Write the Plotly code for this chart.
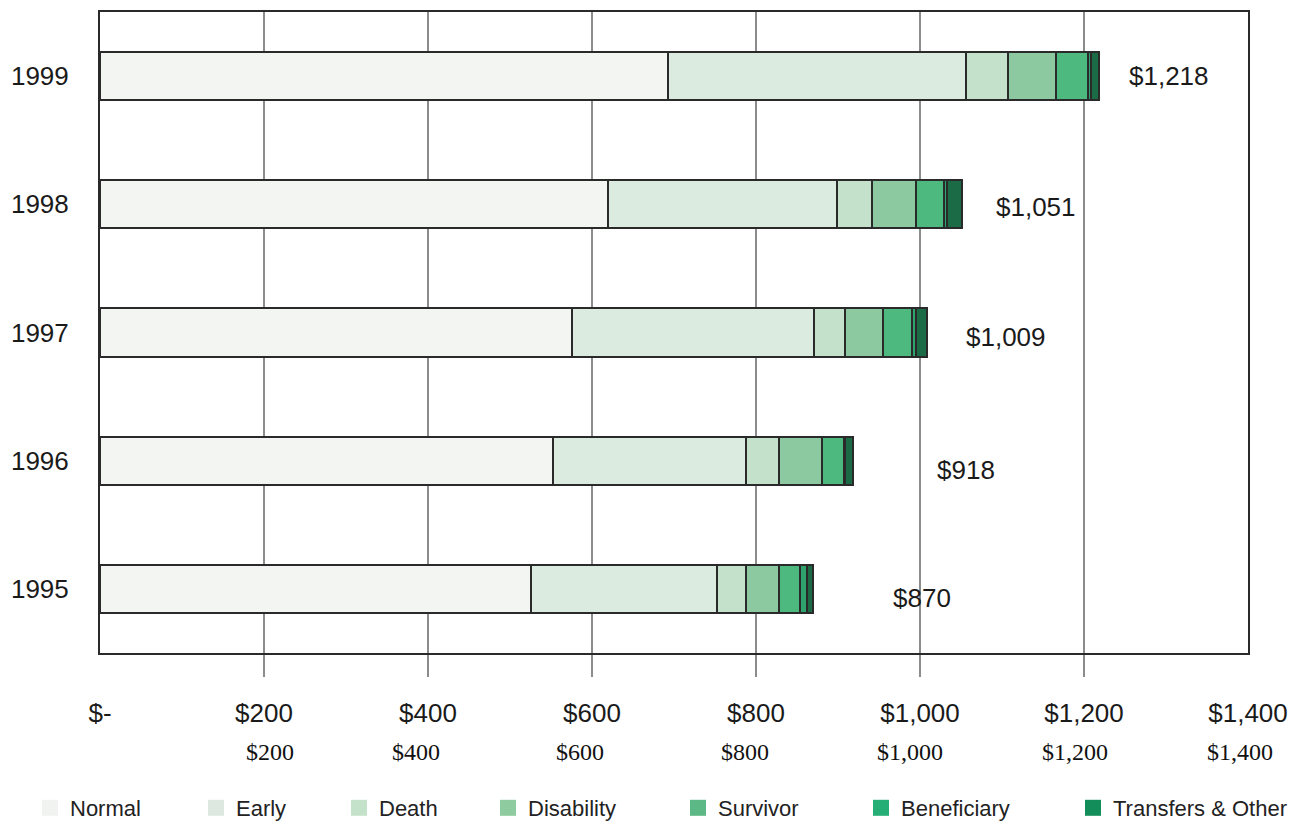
import plotly.graph_objects as go

# ---- data ----
years = ["1995", "1996", "1997", "1998", "1999"]
categories = ["Normal", "Early", "Death", "Disability", "Survivor", "Beneficiary", "Transfers & Other"]
normal = [526, 552, 576, 620, 693]
early = [227, 236, 295, 279, 363]
death = [35, 40, 38, 42, 51]
disability = [40, 52, 46, 54, 59]
survivor = [26, 27, 35, 34, 39]
beneficiary = [8, 2, 5, 4, 3]
transfers = [8, 9, 14, 18, 10]
totals = [870, 918, 1009, 1051, 1218]
x_tick_vals = [0, 200, 400, 600, 800, 1000, 1200, 1400]
x_tick_text = ["$-", "$200", "$400", "$600", "$800", "$1,000", "$1,200", "$1,400"]
serif_row_text = ["$200", "$400", "$600", "$800", "$1,000", "$1,200", "$1,400"]

series = [normal, early, death, disability, survivor, beneficiary, transfers]

# ---- styles / layout ----
bar_colors = ["#f3f5f3", "#dcebe0", "#c4e1cb", "#8dc9a0", "#4db97e", "#2ea36e", "#1b6b47"]
legend_colors = ["#f1f3f1", "#dde9e0", "#c4e2c9", "#8ecb9e", "#5cb884", "#25ae76", "#138d5a"]
legend_text_px = [72, 238, 381, 530, 720, 903, 1115]
serif_row_px = [270, 416, 580, 745, 910, 1075, 1240]
label_xshift = [78, 82, 37, 32, 28]
label_yshift = [-9, -9, -4, -3, 0]

SANS = "Liberation Sans, Arial, Helvetica, sans-serif"
SERIF = "Liberation Serif, Times New Roman, serif"
W, H = 1316, 825
L, R, T, B = 100, 68, 12, 172
PW, PH = W - L - R, H - T - B

fig = go.Figure()
for name, vals, col in zip(categories, series, bar_colors):
    fig.add_trace(go.Bar(
        y=years, x=vals, orientation="h", name=name,
        marker=dict(color=col, line=dict(color="#2a2a2a", width=2)),
        width=0.375, showlegend=False, hoverinfo="x+name",
    ))

for i, (name, col) in enumerate(zip(categories, legend_colors)):
    key = "legend" if i == 0 else f"legend{i + 1}"
    fig.add_trace(go.Scatter(
        x=[None], y=[None], mode="markers", name=name,
        marker=dict(symbol="square", size=16, color=col),
        legend=key, showlegend=True,
    ))
    fig.update_layout(**{key: dict(
        x=(legend_text_px[i] - 42 - L) / PW, y=(PH + T - 808) / PH,
        xanchor="left", yanchor="middle", orientation="h",
        bgcolor="rgba(0,0,0,0)", borderwidth=0,
        font=dict(family=SANS, size=22, color="#222"),
    )})

annotations = []
for idx, (tot, xs, ys) in enumerate(zip(totals, label_xshift, label_yshift)):
    annotations.append(dict(
        x=tot, y=idx, xref="x", yref="y", text=f"${tot:,}", showarrow=False,
        xanchor="left", yanchor="middle", xshift=xs, yshift=ys,
        font=dict(family=SANS, size=26, color="#1a1a1a"),
    ))
for txt, px in zip(serif_row_text, serif_row_px):
    annotations.append(dict(
        x=(px - L) / PW, y=(T + PH - 752) / PH, xref="paper", yref="paper",
        text=txt, showarrow=False, xanchor="center", yanchor="middle",
        font=dict(family=SERIF, size=24, color="#111"),
    ))

fig.update_layout(
    width=W, height=H, barmode="stack",
    margin=dict(l=L, r=R, t=T, b=B, autoexpand=False),
    paper_bgcolor="white", plot_bgcolor="white",
    bargap=0.6,
    annotations=annotations,
    xaxis=dict(
        range=[0, 1400], tickvals=x_tick_vals, ticktext=x_tick_text,
        ticks="", showgrid=True, gridcolor="#8c8c8c", gridwidth=1.5,
        showline=True, linecolor="#2a2a2a", linewidth=2, mirror=True,
        zeroline=False, ticklabelstandoff=36,
        tickfont=dict(family=SANS, size=26, color="#1a1a1a"),
        minor=dict(tickvals=x_tick_vals[1:-1], ticks="outside", ticklen=22,
                   tickcolor="#8c8c8c", tickwidth=2, showgrid=False),
        fixedrange=True,
    ),
    yaxis=dict(
        type="category", categoryorder="array", categoryarray=years,
        range=[-0.5, 4.5], ticks="", showgrid=False,
        showline=True, linecolor="#2a2a2a", linewidth=2, mirror=True,
        ticklabelstandoff=24,
        tickfont=dict(family=SANS, size=26, color="#1a1a1a"),
        fixedrange=True,
    ),
)

fig.write_html("out.html")
